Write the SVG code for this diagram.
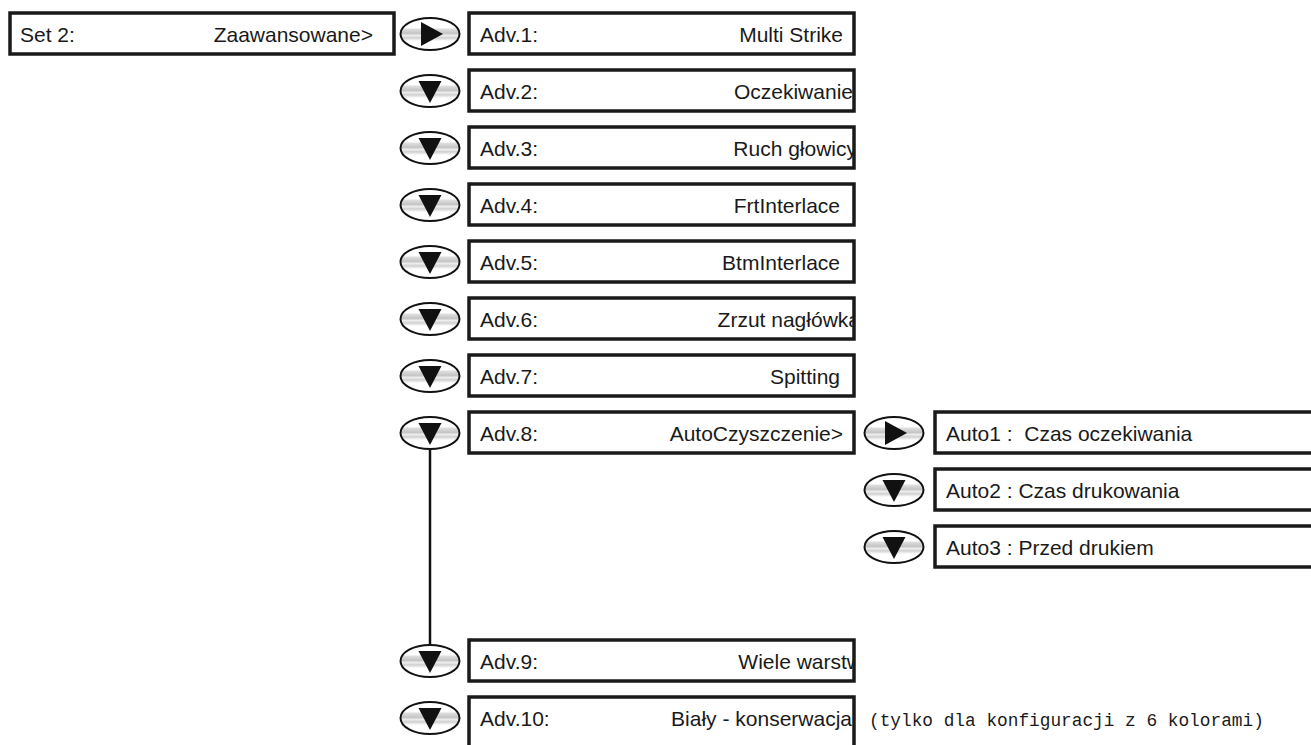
<svg xmlns="http://www.w3.org/2000/svg" width="1311" height="745" viewBox="0 0 1311 745">
<defs>
<linearGradient id="btn" x1="0" y1="0" x2="0" y2="1">
<stop offset="0" stop-color="#ffffff"/>
<stop offset="0.3" stop-color="#ffffff"/>
<stop offset="0.36" stop-color="#dcdcdc"/>
<stop offset="0.48" stop-color="#c4c4c4"/>
<stop offset="0.55" stop-color="#eeeeee"/>
<stop offset="0.62" stop-color="#d0d0d0"/>
<stop offset="0.72" stop-color="#ffffff"/>
<stop offset="1" stop-color="#ffffff"/>
</linearGradient>
<clipPath id="advclip"><rect x="468" y="0" width="387" height="745"/></clipPath>
<g id="down">
<ellipse cx="0" cy="0" rx="29.5" ry="16" fill="url(#btn)" stroke="#111" stroke-width="2"/>
<polygon points="-11.5,-10 11.5,-10 0,12" fill="#111"/>
</g>
<g id="right">
<ellipse cx="0" cy="0" rx="29.5" ry="16" fill="url(#btn)" stroke="#111" stroke-width="2"/>
<polygon points="-9,-12 -9,12 13,0" fill="#111"/>
</g>
</defs>
<style>
.box{fill:#fff;stroke:#1a1a1a;stroke-width:3.5}
.t{font-family:"Liberation Sans",Arial,sans-serif;font-size:21px;fill:#1a1a1a}
.r{text-anchor:end}
.note{font-family:"Liberation Mono","DejaVu Sans Mono",monospace;font-size:17.8px;fill:#1a1a1a}
.conn{stroke:#111;stroke-width:2.5;fill:none}
</style>
<rect width="1311" height="745" fill="#fff"/>
<g id="connectors">
<line class="conn" x1="430" y1="440" x2="430" y2="655"/>
</g>
<g id="set2"><rect class="box" x="10" y="13" width="384" height="41"/><text class="t" x="20" y="42">Set 2:</text><text class="t r" x="373" y="42">Zaawansowane&gt;</text></g>
<g id="btn1"><use href="#right" x="430" y="34"/></g>
<g id="adv1"><rect class="box" x="469" y="13" width="385" height="41"/><text class="t" x="480" y="42">Adv.1:</text><text class="t r" x="843" y="42">Multi Strike</text></g>
<g id="btn2"><use href="#down" x="430" y="91"/></g>
<g id="adv2"><rect class="box" x="469" y="70" width="385" height="41"/><text class="t" x="480" y="99">Adv.2:</text><text class="t r" x="853" y="99" clip-path="url(#advclip)">Oczekiwanie</text></g>
<g id="btn3"><use href="#down" x="430" y="148"/></g>
<g id="adv3"><rect class="box" x="469" y="127" width="385" height="41"/><text class="t r" x="857" y="156" clip-path="url(#advclip)">Ruch głowicy</text><text class="t" x="480" y="156">Adv.3:</text></g>
<g id="btn4"><use href="#down" x="430" y="205"/></g>
<g id="adv4"><rect class="box" x="469" y="184" width="385" height="41"/><text class="t" x="480" y="213">Adv.4:</text><text class="t r" x="840" y="213">FrtInterlace</text></g>
<g id="btn5"><use href="#down" x="430" y="262"/></g>
<g id="adv5"><rect class="box" x="469" y="241" width="385" height="41"/><text class="t" x="480" y="270">Adv.5:</text><text class="t r" x="840" y="270">BtmInterlace</text></g>
<g id="btn6"><use href="#down" x="430" y="319"/></g>
<g id="adv6"><rect class="box" x="469" y="298" width="385" height="41"/><text class="t" x="480" y="327">Adv.6:</text><text class="t r" x="860" y="327" clip-path="url(#advclip)">Zrzut nagłówka</text></g>
<g id="btn7"><use href="#down" x="430" y="376"/></g>
<g id="adv7"><rect class="box" x="469" y="355" width="385" height="41"/><text class="t" x="480" y="384">Adv.7:</text><text class="t r" x="840" y="384">Spitting</text></g>
<g id="btn8"><use href="#down" x="430" y="433"/></g>
<g id="adv8"><rect class="box" x="469" y="412" width="385" height="41"/><text class="t" x="480" y="441">Adv.8:</text><text class="t r" x="843" y="441">AutoCzyszczenie&gt;</text></g>
<g id="btnA1"><use href="#right" x="894" y="433"/></g>
<g id="auto1"><rect class="box" x="935" y="412" width="400" height="41"/><text class="t" x="946" y="441" xml:space="preserve">Auto1 :  Czas oczekiwania</text></g>
<g id="btnA2"><use href="#down" x="894" y="490"/></g>
<g id="auto2"><rect class="box" x="935" y="469" width="400" height="41"/><text class="t" x="946" y="498">Auto2 : Czas drukowania</text></g>
<g id="btnA3"><use href="#down" x="894" y="547"/></g>
<g id="auto3"><rect class="box" x="935" y="526" width="400" height="41"/><text class="t" x="946" y="555">Auto3 : Przed drukiem</text></g>
<g id="btn9"><use href="#down" x="430" y="661"/></g>
<g id="adv9"><rect class="box" x="469" y="640" width="385" height="41"/><text class="t" x="480" y="669">Adv.9:</text><text class="t r" x="862" y="669" clip-path="url(#advclip)">Wiele warstw</text></g>
<g id="btn10"><use href="#down" x="430" y="718"/></g>
<g id="adv10"><rect class="box" x="469" y="697" width="385" height="60"/><text class="t" x="480" y="726">Adv.10:</text><text class="t r" x="852" y="726">Biały - konserwacja</text></g>
<g id="note"><text class="note" x="869" y="726">(tylko dla konfiguracji z 6 kolorami)</text></g>
</svg>
